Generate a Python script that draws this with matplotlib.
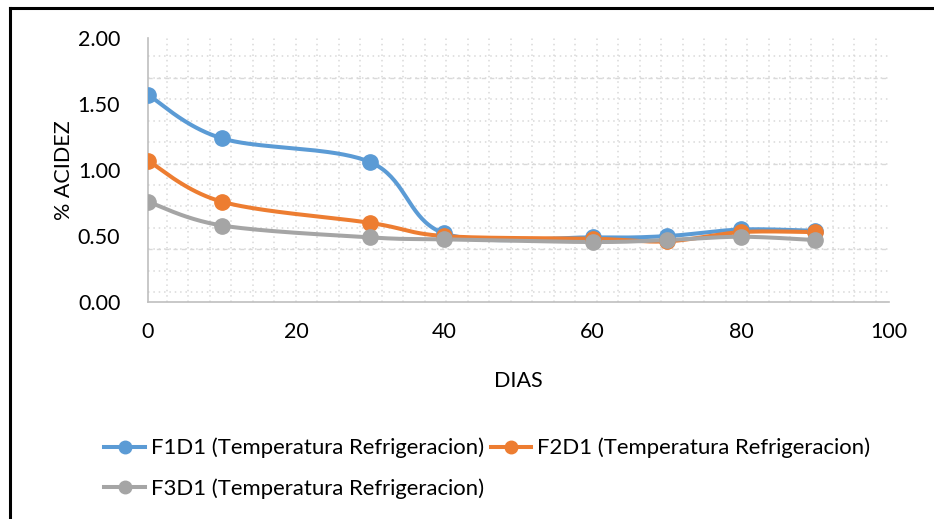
import numpy as np
import matplotlib
matplotlib.use("Agg")
import matplotlib.pyplot as plt
from matplotlib.lines import Line2D
from matplotlib.ticker import FixedLocator, MultipleLocator, FormatStrFormatter

plt.rcParams["font.family"] = ["Lato", "DejaVu Sans"]

dias = [0, 10, 30, 40, 60, 70, 80, 90]
f1d1 = [1.57, 1.24, 1.06, 0.52, 0.49, 0.50, 0.55, 0.54]
f2d1 = [1.07, 0.76, 0.60, 0.50, 0.48, 0.46, 0.53, 0.53]
f3d1 = [0.76, 0.58, 0.49, 0.475, 0.455, 0.47, 0.495, 0.47]

labels = [
    "F1D1 (Temperatura Refrigeracion)",
    "F2D1 (Temperatura Refrigeracion)",
    "F3D1 (Temperatura Refrigeracion)",
]
colors = ["#5B9BD5", "#ED7D31", "#A5A5A5"]


def smooth(x, y, n=40):
    # Excel style smoothing: Catmull-Rom segments as cubic Bezier
    p = np.column_stack([x, y]).astype(float)
    ext = np.vstack([p[0], p, p[-1]])
    t = np.linspace(0, 1, n)[:, None]
    out = []
    for i in range(1, len(ext) - 2):
        p0, p1, p2, p3 = ext[i - 1], ext[i], ext[i + 1], ext[i + 2]
        c1 = p1 + (p2 - p0) / 6
        c2 = p2 - (p3 - p1) / 6
        seg = ((1 - t) ** 3) * p1 + 3 * ((1 - t) ** 2) * t * c1 + 3 * (1 - t) * t ** 2 * c2 + t ** 3 * p2
        out.append(seg if i == 1 else seg[1:])
    out = np.vstack(out)
    return out[:, 0], out[:, 1]


fig = plt.figure(figsize=(9.34, 5.19), dpi=100)
ax = fig.add_axes([0.1585, 0.418, 0.7935, 0.5085])

# odd Excel gridlines (they don't sit on the tick values)
ygrid_minor = np.arange(0.075, 2.0, 0.1625)
ygrid_major = [0.40, 1.05, 1.70]
xgrid = np.arange(2.52, 100, 2.9)
ax.xaxis.set_minor_locator(FixedLocator(xgrid))
ax.yaxis.set_minor_locator(FixedLocator(ygrid_minor))
ax.grid(which="minor", color="#D9D9D9", linestyle=(0, (1, 2.5)), linewidth=1.1)
for g in ygrid_major:
    ax.axhline(g, color="#D9D9D9", linestyle=(0, (3, 3)), linewidth=1.0, zorder=0)

series = []
for vals, lab, col in zip([f1d1, f2d1, f3d1], labels, colors):
    sx, sy = smooth(dias, vals)
    ax.plot(sx, sy, color=col, linewidth=2.9, solid_capstyle="round", zorder=3)
    ax.plot(dias, vals, "o", color=col, markersize=11, zorder=4)
    series.append(Line2D([], [], color=col, linewidth=2.9, marker="o", markersize=9, label=lab))

ax.set_xlim(0, 100)
ax.set_ylim(0, 2.0)
ax.xaxis.set_major_locator(MultipleLocator(20))
ax.yaxis.set_major_locator(MultipleLocator(0.5))
ax.yaxis.set_major_formatter(FormatStrFormatter("%.2f"))
ax.tick_params(which="both", length=0, labelsize=15.5)
ax.tick_params(axis="x", pad=14)
ax.tick_params(axis="y", pad=20)

for s in ["top", "right"]:
    ax.spines[s].set_visible(False)
for s in ["left", "bottom"]:
    ax.spines[s].set_color("#BFBFBF")
    ax.spines[s].set_linewidth(1.2)

ax.set_xlabel("DIAS", fontsize=15.5, labelpad=21)
ax.set_ylabel("% ACIDEZ", fontsize=15.5, labelpad=3)

# column-wise fill: F1 / F3 in first column, F2 in second
fig.legend(handles=[series[0], series[2], series[1]], loc="upper left",
           bbox_to_anchor=(0.1, 0.178), ncol=2, frameon=False, fontsize=15.9,
           handlelength=1.85, handletextpad=0.25, columnspacing=0.3,
           labelspacing=0.92, borderpad=0)

# black frame lines (left and top) of the pasted chart
fig.add_artist(Line2D([9.5 / 934, 9.5 / 934], [0, 1 - 8 / 519], color="black", linewidth=2.2, transform=fig.transFigure))
fig.add_artist(Line2D([9.5 / 934, 1], [1 - 8 / 519, 1 - 8 / 519], color="black", linewidth=2.2, transform=fig.transFigure))

fig.savefig("out.png", dpi=100)
